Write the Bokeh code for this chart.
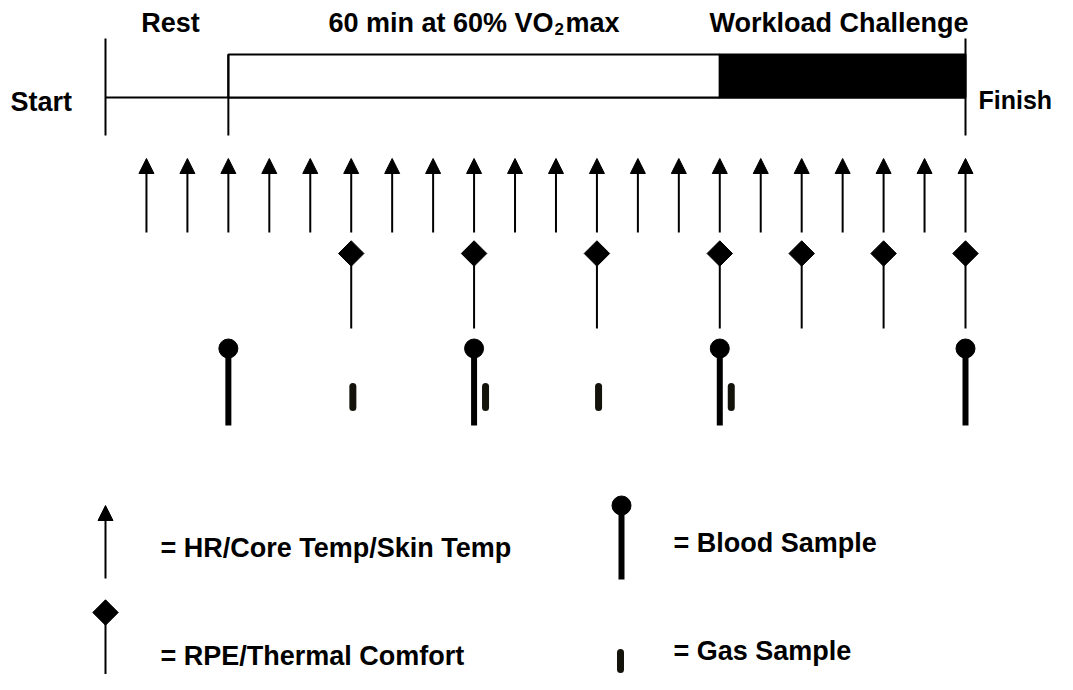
from bokeh.plotting import figure
from bokeh.models import Range1d, Arrow, NormalHead, ColumnDataSource
from bokeh.core.properties import value
from bokeh.embed import file_html
from bokeh.resources import INLINE
import math

# ---- protocol data (minutes from start) ----
phase_names = ["Rest", "60 min at 60% VO2max", "Workload Challenge"]
phase_start = [0, 15, 75]
phase_end = [15, 75, 105]
hr_times = [5, 10, 15, 20, 25, 30, 35, 40, 45, 50, 55, 60, 65, 70, 75, 80, 85, 90, 95, 100, 105]
rpe_times = [30, 45, 60, 75, 85, 95, 105]
blood_times = [15, 45, 75, 105]
gas_times = [30, 45, 60, 75]
legend_labels = ["= HR/Core Temp/Skin Temp", "= RPE/Thermal Comfort", "= Blood Sample", "= Gas Sample"]

# ---- layout ----
PXMIN = 860.0 / 105.0          # pixels per minute
def T(px):                     # layout helper: page x -> minutes
    return (px - 105.0) / PXMIN

W, H = 1057, 674
p = figure(width=W, height=H, output_backend="svg", toolbar_location=None,
           x_range=Range1d(T(0), T(W)), y_range=Range1d(H, 0),
           min_border=0, outline_line_color=None)
p.axis.visible = False
p.grid.visible = False
p.background_fill_color = "white"
p.border_fill_color = "white"

FONT = value("Liberation Sans")
FS = "27px"
LW = 2
DY = -10   # baseline correction

t0, t_ex, t_wl, t_end = phase_start[0], phase_start[1], phase_start[2], phase_end[2]

# timeline
p.segment(x0=[t0, t_end], y0=[38, 38], x1=[t0, t_end], y1=[135, 135], line_color="black", line_width=LW)
p.segment(x0=[t0], y0=[97], x1=[t_end], y1=[97], line_color="black", line_width=LW)
# exercise box (open) + workload challenge (filled)
p.quad(left=[t_ex], right=[t_wl], top=[54], bottom=[97], fill_color="white", line_color="black", line_width=LW)
p.quad(left=[t_wl], right=[t_end], top=[54], bottom=[97], fill_color="black", line_color="black", line_width=LW)
p.segment(x0=[t_ex], y0=[54], x1=[t_ex], y1=[135], line_color="black", line_width=LW)

def label(px, y, txt, align="left", size=FS):
    p.text(x=[T(px)], y=[y + DY], text=[txt], text_font=FONT, text_font_style="bold",
           text_font_size=size, text_align=align, text_baseline="alphabetic", text_color="black")

# phase labels
label(170, 32, phase_names[0], "center")
label(553, 32, "60 min at 60% VO", "right")
label(554, 38, "2", "left", "17px")
label(565, 32, "max", "left")
label(968, 32, phase_names[2], "right")
label(10, 111, "Start")
label(978, 109, "Finish", "left", "25px")

# HR arrows
hr_src = ColumnDataSource(dict(x=hr_times, y0=[232] * len(hr_times), y1=[158] * len(hr_times)))
p.add_layout(Arrow(end=NormalHead(size=15, fill_color="black", line_color="black", line_width=1),
                   x_start="x", y_start="y0", x_end="x", y_end="y1", source=hr_src,
                   line_color="black", line_width=LW))

# RPE diamonds
p.segment(x0=rpe_times, y0=[253] * len(rpe_times), x1=rpe_times, y1=[328] * len(rpe_times),
          line_color="black", line_width=LW)
p.scatter(x=rpe_times, y=[253] * len(rpe_times), marker="square", angle=math.pi / 4, size=18,
          fill_color="black", line_color="black")

# Blood samples
p.segment(x0=blood_times, y0=[348] * len(blood_times), x1=blood_times, y1=[425] * len(blood_times),
          line_color="black", line_width=6)
p.scatter(x=blood_times, y=[348] * len(blood_times), marker="circle", size=19,
          fill_color="black", line_color="black")

# Gas samples (shifted beside a blood sample when coinciding)
GAS_C = "#13130b"
gas_x = [t + (1.4 if t in blood_times else 0.2) for t in gas_times]
p.segment(x0=gas_x, y0=[386] * len(gas_x), x1=gas_x, y1=[407] * len(gas_x),
          line_color=GAS_C, line_width=7, line_cap="round")

# ---- legend ----
leg_src = ColumnDataSource(dict(x=[T(105)], y0=[578], y1=[505]))
p.add_layout(Arrow(end=NormalHead(size=15, fill_color="black", line_color="black", line_width=1),
                   x_start="x", y_start="y0", x_end="x", y_end="y1", source=leg_src,
                   line_color="black", line_width=LW))
p.segment(x0=[T(105)], y0=[612], x1=[T(105)], y1=[690], line_color="black", line_width=LW)
p.scatter(x=[T(105)], y=[612], marker="square", angle=math.pi / 4, size=18, fill_color="black", line_color="black")
p.segment(x0=[T(621)], y0=[505], x1=[T(621)], y1=[579], line_color="black", line_width=6)
p.scatter(x=[T(621)], y=[505], marker="circle", size=19, fill_color="black", line_color="black")
p.segment(x0=[T(620)], y0=[652], x1=[T(620)], y1=[669], line_color=GAS_C, line_width=7, line_cap="round")

label(160, 557, legend_labels[0])
label(160, 665, legend_labels[1])
label(673, 552, legend_labels[2])
label(673, 660, legend_labels[3])

open("out.html", "w").write(file_html(p, INLINE))
